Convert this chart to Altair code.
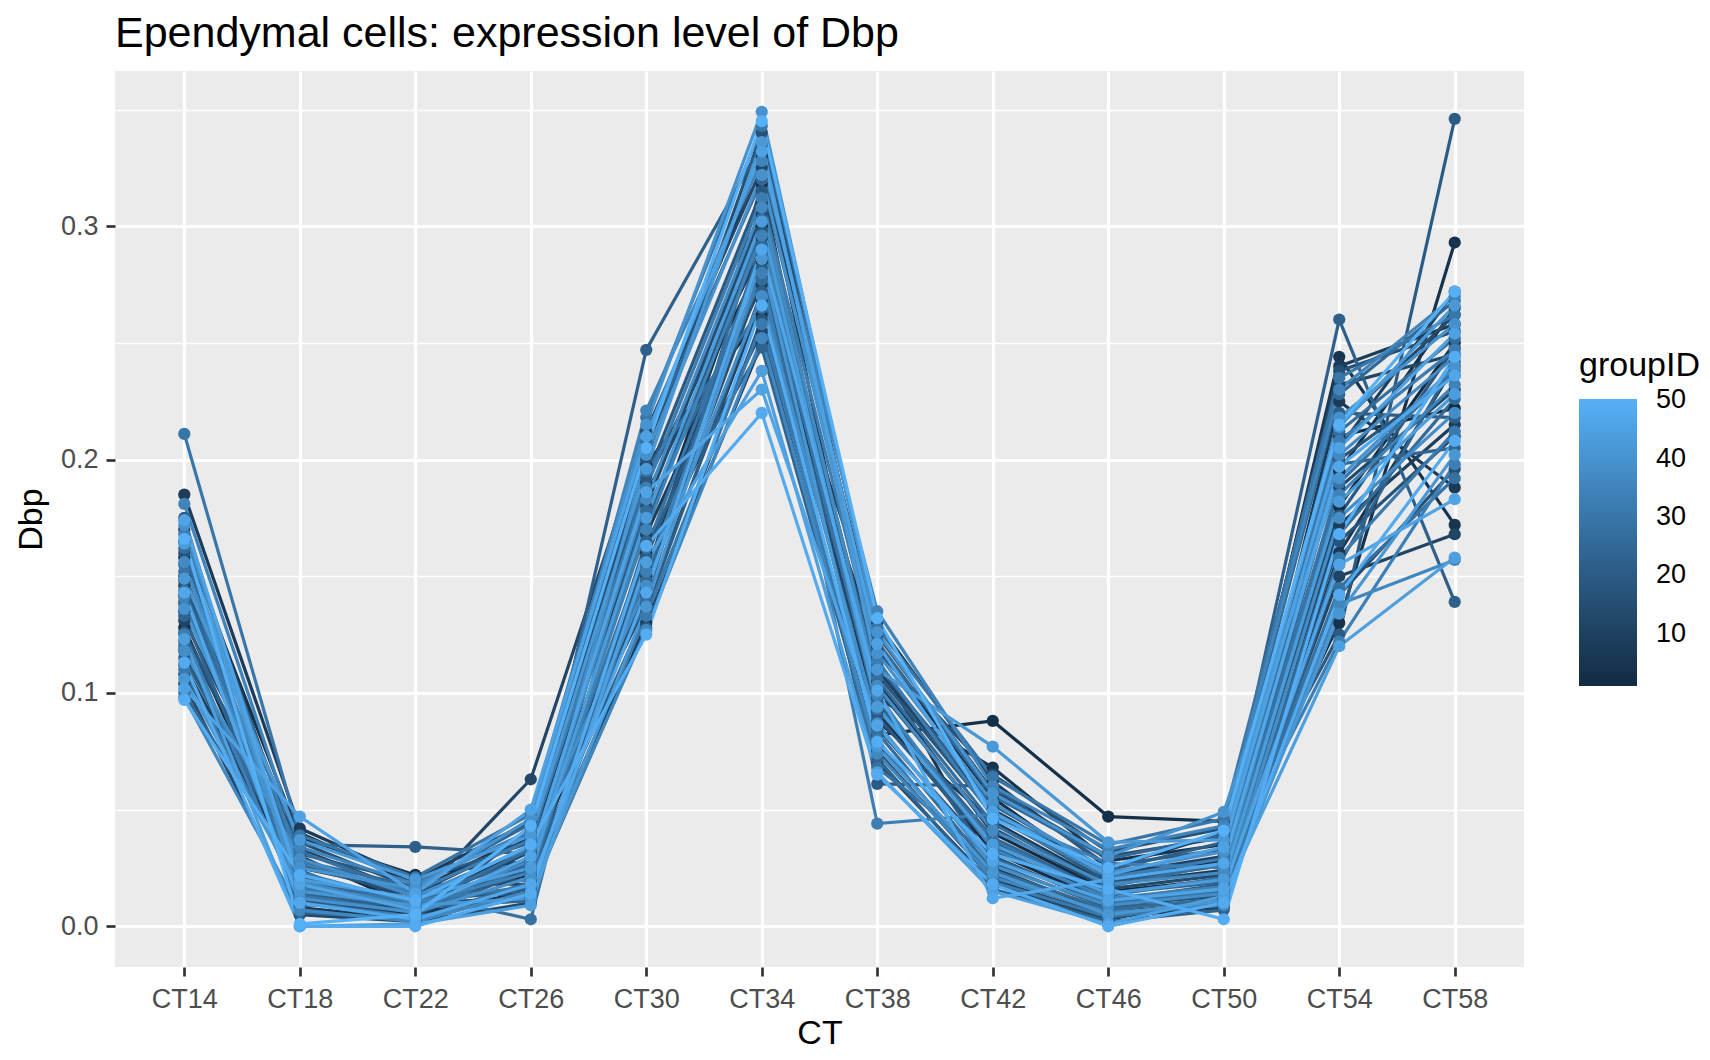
import altair as alt
import pandas as pd

CT = ["CT14", "CT18", "CT22", "CT26", "CT30", "CT34", "CT38", "CT42", "CT46", "CT50", "CT54", "CT58"]
group_ids = list(range(1, 51))

CT14 = [0.128, 0.142, 0.165, 0.118, 0.150, 0.135, 0.158, 0.185, 0.112, 0.146,
        0.131, 0.170, 0.104, 0.139, 0.122, 0.160, 0.108, 0.148, 0.126, 0.175,
        0.115, 0.155, 0.133, 0.100, 0.144, 0.162, 0.120, 0.138, 0.152, 0.211,
        0.110, 0.168, 0.125, 0.141, 0.181, 0.098, 0.156, 0.118, 0.172, 0.136,
        0.106, 0.149, 0.164, 0.123, 0.102, 0.174, 0.143, 0.113, 0.097, 0.166]
CT18 = [0.018, 0.030, 0.038, 0.012, 0.025, 0.040, 0.008, 0.042, 0.020, 0.015,
        0.033, 0.028, 0.005, 0.022, 0.036, 0.011, 0.026, 0.017, 0.031, 0.009,
        0.024, 0.035, 0.014, 0.019, 0.028, 0.006, 0.021, 0.032, 0.013, 0.039,
        0.016, 0.027, 0.010, 0.023, 0.034, 0.007, 0.019, 0.029, 0.012, 0.025,
        0.015, 0.037, 0.020, 0.000, 0.047, 0.018, 0.010, 0.000, 0.022, 0.001]
CT22 = [0.012, 0.008, 0.022, 0.005, 0.015, 0.018, 0.003, 0.020, 0.010, 0.006,
        0.014, 0.011, 0.002, 0.009, 0.016, 0.004, 0.013, 0.007, 0.019, 0.010,
        0.005, 0.034, 0.008, 0.012, 0.017, 0.003, 0.009, 0.014, 0.006, 0.021,
        0.011, 0.015, 0.004, 0.010, 0.018, 0.002, 0.008, 0.013, 0.006, 0.016,
        0.009, 0.020, 0.012, 0.001, 0.014, 0.007, 0.003, 0.000, 0.011, 0.005]
CT26 = [0.022, 0.035, 0.028, 0.015, 0.040, 0.018, 0.030, 0.045, 0.012, 0.025,
        0.038, 0.063, 0.010, 0.032, 0.020, 0.042, 0.014, 0.027, 0.036, 0.016,
        0.024, 0.031, 0.011, 0.029, 0.044, 0.019, 0.033, 0.003, 0.026, 0.048,
        0.017, 0.037, 0.013, 0.023, 0.041, 0.015, 0.028, 0.034, 0.021, 0.046,
        0.012, 0.039, 0.025, 0.009, 0.050, 0.030, 0.018, 0.014, 0.035, 0.043]
CT30 = [0.160, 0.185, 0.142, 0.198, 0.175, 0.130, 0.205, 0.168, 0.150, 0.190,
        0.138, 0.212, 0.155, 0.180, 0.145, 0.200, 0.128, 0.172, 0.192, 0.158,
        0.135, 0.247, 0.165, 0.148, 0.208, 0.178, 0.140, 0.195, 0.162, 0.218,
        0.133, 0.188, 0.152, 0.170, 0.221, 0.127, 0.183, 0.146, 0.202, 0.215,
        0.137, 0.196, 0.175, 0.156, 0.210, 0.186, 0.143, 0.163, 0.125, 0.205]
CT34 = [0.300, 0.285, 0.318, 0.262, 0.295, 0.250, 0.330, 0.275, 0.310, 0.290,
        0.268, 0.325, 0.255, 0.305, 0.278, 0.340, 0.260, 0.298, 0.315, 0.282,
        0.272, 0.335, 0.248, 0.292, 0.320, 0.277, 0.303, 0.265, 0.288, 0.343,
        0.258, 0.312, 0.280, 0.296, 0.328, 0.252, 0.308, 0.270, 0.322, 0.349,
        0.286, 0.336, 0.302, 0.238, 0.332, 0.230, 0.290, 0.220, 0.266, 0.345]
CT38 = [0.105, 0.092, 0.082, 0.120, 0.098, 0.115, 0.088, 0.130, 0.075, 0.110,
        0.095, 0.125, 0.070, 0.102, 0.085, 0.118, 0.078, 0.108, 0.090, 0.061,
        0.100, 0.112, 0.072, 0.096, 0.122, 0.083, 0.106, 0.068, 0.093, 0.128,
        0.080, 0.114, 0.044, 0.099, 0.135, 0.074, 0.103, 0.087, 0.117, 0.126,
        0.077, 0.110, 0.094, 0.066, 0.121, 0.086, 0.101, 0.065, 0.079, 0.132]
CT42 = [0.040, 0.032, 0.088, 0.055, 0.068, 0.025, 0.045, 0.062, 0.020, 0.050,
        0.036, 0.058, 0.018, 0.042, 0.030, 0.065, 0.022, 0.048, 0.034, 0.060,
        0.027, 0.052, 0.016, 0.038, 0.056, 0.024, 0.044, 0.029, 0.037, 0.064,
        0.019, 0.047, 0.048, 0.033, 0.060, 0.021, 0.041, 0.026, 0.053, 0.057,
        0.023, 0.077, 0.035, 0.015, 0.049, 0.028, 0.012, 0.018, 0.031, 0.046]
CT46 = [0.015, 0.010, 0.047, 0.020, 0.028, 0.006, 0.018, 0.025, 0.004, 0.022,
        0.012, 0.030, 0.003, 0.016, 0.009, 0.032, 0.005, 0.019, 0.011, 0.026,
        0.008, 0.024, 0.002, 0.014, 0.029, 0.007, 0.017, 0.010, 0.013, 0.035,
        0.004, 0.021, 0.027, 0.012, 0.033, 0.006, 0.018, 0.009, 0.023, 0.030,
        0.005, 0.036, 0.014, 0.001, 0.022, 0.011, 0.020, 0.000, 0.016, 0.025]
CT50 = [0.020, 0.014, 0.045, 0.028, 0.035, 0.010, 0.024, 0.040, 0.008, 0.030,
        0.016, 0.038, 0.012, 0.022, 0.013, 0.042, 0.009, 0.026, 0.018, 0.033,
        0.011, 0.036, 0.007, 0.019, 0.039, 0.012, 0.027, 0.015, 0.021, 0.046,
        0.010, 0.029, 0.025, 0.017, 0.043, 0.009, 0.023, 0.014, 0.032, 0.049,
        0.011, 0.037, 0.020, 0.013, 0.034, 0.016, 0.027, 0.010, 0.003, 0.041]
CT54 = [0.180, 0.210, 0.195, 0.130, 0.244, 0.160, 0.225, 0.240, 0.172, 0.205,
        0.150, 0.232, 0.188, 0.215, 0.142, 0.238, 0.165, 0.200, 0.176, 0.125,
        0.220, 0.260, 0.155, 0.198, 0.228, 0.168, 0.212, 0.145, 0.190, 0.235,
        0.158, 0.208, 0.122, 0.185, 0.230, 0.138, 0.202, 0.175, 0.218, 0.192,
        0.134, 0.214, 0.182, 0.120, 0.205, 0.155, 0.197, 0.142, 0.168, 0.215]
CT58 = [0.250, 0.222, 0.265, 0.293, 0.172, 0.240, 0.188, 0.258, 0.215, 0.272,
        0.168, 0.245, 0.230, 0.262, 0.196, 0.255, 0.210, 0.236, 0.248, 0.346,
        0.218, 0.139, 0.242, 0.205, 0.268, 0.226, 0.252, 0.192, 0.238, 0.262,
        0.212, 0.247, 0.198, 0.232, 0.270, 0.157, 0.244, 0.220, 0.258, 0.240,
        0.202, 0.266, 0.228, 0.158, 0.254, 0.183, 0.236, 0.208, 0.244, 0.272]

series = [CT14, CT18, CT22, CT26, CT30, CT34, CT38, CT42, CT46, CT50, CT54, CT58]

rows = []
for g_i, g in enumerate(group_ids):
    for c_i, ct in enumerate(CT):
        rows.append({"groupID": g, "CT": ct, "Dbp": series[c_i][g_i]})
df = pd.DataFrame(rows)

FONT = "Liberation Sans"

x_enc = alt.X("CT:O", sort=CT,
              scale=alt.Scale(type="point", padding=0.6),
              axis=alt.Axis(title="CT", labelAngle=0, grid=True, gridColor="white",
                            gridWidth=3.2, domain=False, tickColor="#333333",
                            tickWidth=2.7, tickSize=9, labelPadding=10,
                            labelFontSize=27, labelColor="#4D4D4D", labelFont=FONT,
                            titleFontSize=34, titleFont=FONT, titleColor="black",
                            titleFontWeight="normal", titlePadding=4))

y_scale = alt.Scale(domain=[-0.01745, 0.3665], nice=False, zero=False)
color_scale = alt.Scale(domain=[1, 50.2], range=["#132B43", "#56B1F7"],
                        interpolate="lab")

lines = alt.Chart(df).mark_line(strokeWidth=3.2).encode(
    x=x_enc,
    y=alt.Y("Dbp:Q", scale=y_scale,
            axis=alt.Axis(title="Dbp", values=[0, 0.1, 0.2, 0.3], format=".1f",
                          grid=True, gridColor="white", gridWidth=3.2, domain=False,
                          tickColor="#333333", tickWidth=2.7, tickSize=9,
                          labelPadding=8, labelFontSize=27, labelColor="#4D4D4D",
                          labelFont=FONT, titleFontSize=34, titleFont=FONT,
                          titleColor="black", titleFontWeight="normal",
                          titlePadding=12)),
    color=alt.Color("groupID:Q", scale=color_scale, legend=None),
    detail="groupID:N",
)

points = alt.Chart(df).mark_circle(size=150, opacity=1).encode(
    x=x_enc,
    y=alt.Y("Dbp:Q", scale=y_scale,
            axis=alt.Axis(title=None, values=[0.05, 0.15, 0.25, 0.35], grid=True,
                          gridColor="white", gridWidth=1.6, labels=False,
                          ticks=False, domain=False, orient="right")),
    color=alt.Color("groupID:Q", scale=color_scale,
                    legend=alt.Legend(type="gradient", title="groupID", orient="none",
                                      legendX=1464, legendY=278, direction="vertical",
                                      gradientLength=287, gradientThickness=58,
                                      gradientStrokeWidth=0,
                                      values=[10, 20, 30, 40, 50],
                                      labelOverlap=False,
                                      titleFontSize=34, titleFont=FONT,
                                      titleColor="black", titleFontWeight="normal",
                                      titlePadding=16, labelFontSize=27,
                                      labelFont=FONT, labelColor="black",
                                      labelOffset=19)),
)

chart = alt.layer(lines, points).resolve_scale(y="shared", color="shared").resolve_axis(
    y="independent"
).resolve_legend(color="independent").properties(
    width=1409,
    height=896,
    autosize=alt.AutoSizeParams(type="none"),
    padding={"left": 107, "top": 63, "right": 178, "bottom": 88},
    title=alt.TitleParams("Ependymal cells: expression level of Dbp", anchor="start",
                          fontSize=43, font=FONT, fontWeight="normal", color="black",
                          offset=15, frame="group"),
).configure_view(fill="#EBEBEB", strokeWidth=0)

chart.save("out.html", embed_options={"renderer": "svg", "actions": False})
